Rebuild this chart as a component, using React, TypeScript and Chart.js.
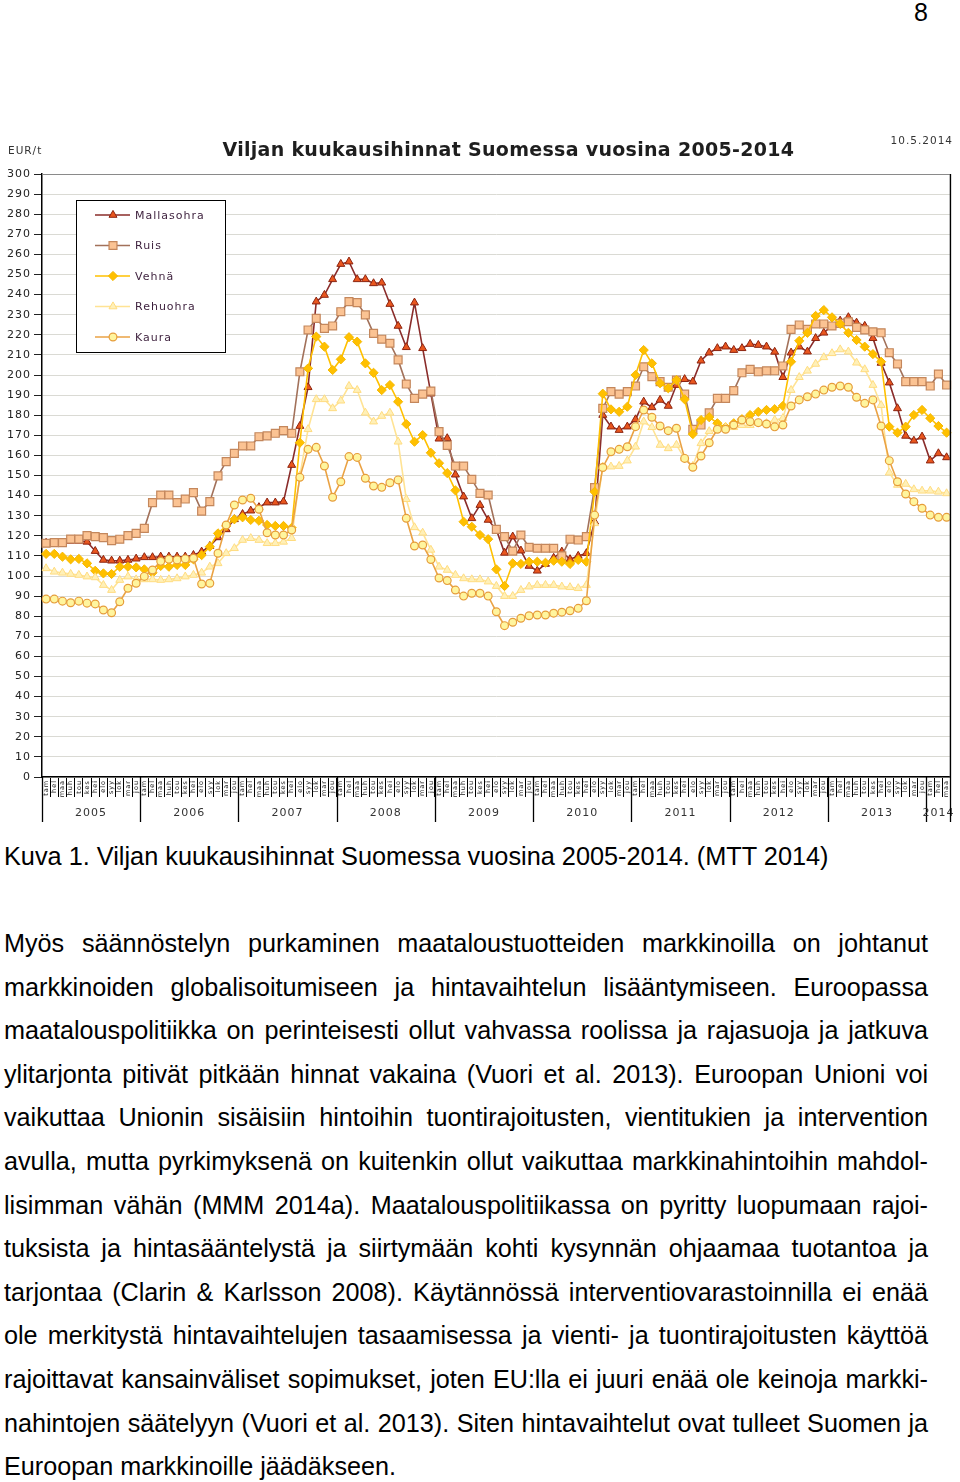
import React, { useEffect, useRef } from "react";
import { Chart, registerables } from "chart.js";

Chart.register(...registerables);

// ---------- data ----------
const years = ["2005", "2006", "2007", "2008", "2009", "2010", "2011", "2012", "2013", "2014"];
const monthLabels = ["tam", "hel", "maa", "huh", "tou", "kes", "hei", "elo", "syy", "lok", "mar", "jou"];
const monthCount = 111;

const mallasohra = [
  116.5, 116.5, 116.5, 117.5, 117.5, 117, 112.4, 108, 107.6, 107.6, 108, 108.6,
  109.3, 109.3, 109.6, 109.6, 109.6, 109.6, 110.4, 112.1, 114.9, 119.2, 123.2, 128.2,
  130.8, 132.5, 134.2, 136.5, 136.5, 137, 155.2, 174.6, 193.9, 236.5, 239.8, 247.6,
  255.2, 256.4, 247.6, 247.6, 245.6, 245.9, 235.3, 224.4, 213.8, 236, 213.3, 190.7,
  168.3, 168.5, 150.4, 139.5, 128.7, 135.3, 127.9, 123, 111.5, 119.6, 112.6, 105,
  102.6, 106, 109, 112.1, 108.3, 110, 111.3, 127, 180.1, 174.3, 172.6, 174.3,
  177.9, 186.7, 183.9, 187.6, 184.6, 195, 197.9, 196.7, 207.1, 211.1, 213.3, 214.1,
  212.4, 213.3, 215.4, 214.9, 214.1, 211.5, 198.9, 211.1, 214.1, 211.6, 218.3, 221,
  224.5, 227, 228.7, 226, 224.4, 218.3, 206, 196.2, 183.4, 169.7, 167.3, 169.3,
  157.4, 161, 159,
];

const ruis = [
  116.3, 116.6, 116.6, 118.4, 118.4, 120.1, 119.6, 119.1, 117.6, 118.3, 120.1, 121.2,
  123.7, 136.5, 140.3, 140.3, 136.5, 138.3, 141.5, 132.3, 137, 149.8, 156.9, 161,
  164.7, 164.7, 169.3, 169.7, 171, 172.3, 171, 201.6, 222.4, 228.2, 223.2, 224.4,
  231.5, 236.5, 236, 229.9, 220.7, 217.8, 215.8, 207.5, 195.5, 188.4, 190.5, 192,
  171.8, 165, 154.7, 154.7, 148.1, 141.1, 140.3, 123.2, 119.6, 112.4, 120.4, 114.3,
  113.8, 113.8, 113.8, 110, 118.3, 117.9, 119.6, 144, 183.4, 191.7, 190.5, 191.7,
  194.5, 204.1, 199.2, 196.7, 193.9, 197.5, 190.5, 173, 175.1, 181.2, 188.4, 188.4,
  192.2, 201.1, 202.8, 201.6, 202.1, 202.1, 204.5, 222.7, 224.9, 222.7, 225.4, 225.4,
  224.4, 225.7, 226.5, 223.7, 222.4, 221.5, 221, 211.1, 205.5, 196.7, 196.7, 196.7,
  194.5, 200.5, 195,
];

const vehna = [
  111, 111, 109.6, 108.3, 108.5, 106.3, 102.6, 101.3, 101, 104.6, 104.6, 104.3,
  103.3, 101.6, 105, 104.6, 105.5, 105.5, 108.3, 110.4, 114.6, 121.2, 124.9, 128.2,
  129.2, 127.9, 127.5, 125.4, 124.9, 124.9, 124, 166.3, 203.3, 219.1, 214.1, 202.5,
  207.8, 218.8, 216.6, 205.8, 201.1, 192.5, 195, 186.7, 175.6, 166.8, 170.1, 161.3,
  156.1, 151.2, 142.6, 127, 124.5, 120.4, 118.3, 103.3, 95, 106.3, 106, 107.1,
  107.1, 106.6, 107.6, 107.1, 106, 108, 107.1, 141.9, 190.7, 182.9, 181.7, 184.2,
  200, 212.4, 205.8, 195.9, 193.4, 197.5, 187.9, 170.6, 177.6, 179, 176, 174,
  176, 178, 180.1, 181.7, 182.6, 183, 184.6, 206.6, 217, 221, 229.4, 232.3,
  228.7, 225.4, 221, 217.4, 214.1, 210.4, 206.6, 174.3, 171.3, 174.3, 180.1, 182.6,
  178.5, 174.6, 171.3,
];

const rehuohra = [
  103.8, 102.1, 101.6, 101, 100.5, 99.7, 99.3, 95.5, 93, 98, 99.7, 98.3,
  98.3, 98.3, 98, 98.3, 98.8, 99.7, 100.5, 101.6, 104.6, 106.3, 111.3, 113.8,
  117.9, 118.8, 117.9, 116.3, 116.3, 117, 118.8, 150, 173, 187.9, 187.9, 183.4,
  187.2, 194.5, 192.5, 181.2, 176.8, 179.6, 181.2, 166.8, 138.2, 124.2, 121.5, 113,
  104.6, 103, 100.5, 98.8, 98.3, 98.3, 97.2, 95, 90, 90, 93, 94.7,
  95.5, 95.5, 95.5, 94.7, 94.4, 93.9, 95.5, 126.2, 154.4, 154.4, 154.7, 157.4,
  164.3, 176.8, 174, 165.2, 163.5, 165.2, 158.5, 154.7, 166, 172, 173, 174,
  174, 175, 175, 176, 176, 177.6, 178.5, 192.5, 198.9, 202.1, 205.5, 208.8,
  210.8, 212.7, 211.6, 206.1, 202.8, 195, 185, 151.4, 145.3, 145.8, 143.1, 142.4,
  142.4, 141.9, 141.1,
];

const kaura = [
  88.5, 88.5, 87.5, 86.7, 87.5, 86.5, 86.1, 83.1, 81.7, 87.2, 93.9, 96.4,
  99.8, 103, 107.3, 108.3, 108, 108.5, 108.8, 96, 96.4, 111.3, 125.4, 135.3,
  137.8, 138.7, 133.2, 121.5, 120.4, 120.4, 122.9, 149.1, 163, 164, 154.7, 139.2,
  146.9, 159.4, 159, 148.6, 144.8, 144.1, 146.4, 147.8, 128.7, 114.9, 115.4, 108.2,
  99, 97.7, 93, 90, 91.4, 91.4, 90, 82.2, 75.3, 77, 79, 80.2,
  80.6, 80.6, 81.5, 82, 82.7, 83.9, 87.7, 130.3, 154, 161.8, 163, 164.3,
  174.3, 182.6, 179, 174.6, 172.3, 173.5, 158.5, 154.1, 159.7, 166.3, 173, 173,
  175.1, 177.6, 176.8, 176.3, 175.6, 174.2, 175.1, 184.6, 187.6, 189.2, 190.5, 192.5,
  193.9, 194.5, 193.9, 188.9, 185.9, 187.6, 174.6, 157.4, 146.9, 140.8, 137, 133.7,
  130.3, 129.2, 129.2,
];

const seriesNames = ["Mallasohra", "Ruis", "Vehnä", "Rehuohra", "Kaura"];
const chartTitle = "Viljan kuukausihinnat Suomessa vuosina 2005-2014";
const unitLabel = "EUR/t";
const dateLabel = "10.5.2014";

const captionText = "Kuva 1. Viljan kuukausihinnat Suomessa vuosina 2005-2014. (MTT 2014)";
const paragraphLines = [
  "Myös säännöstelyn purkaminen maataloustuotteiden markkinoilla on johtanut",
  "markkinoiden globalisoitumiseen ja hintavaihtelun lisääntymiseen. Euroopassa",
  "maatalouspolitiikka on perinteisesti ollut vahvassa roolissa ja rajasuoja ja jatkuva",
  "ylitarjonta pitivät pitkään hinnat vakaina (Vuori et al. 2013). Euroopan Unioni voi",
  "vaikuttaa Unionin sisäisiin hintoihin tuontirajoitusten, vientitukien ja intervention",
  "avulla, mutta pyrkimyksenä on kuitenkin ollut vaikuttaa markkinahintoihin mahdol-",
  "lisimman vähän (MMM 2014a). Maatalouspolitiikassa on pyritty luopumaan rajoi-",
  "tuksista ja hintasääntelystä ja siirtymään kohti kysynnän ohjaamaa tuotantoa ja",
  "tarjontaa (Clarin & Karlsson 2008). Käytännössä interventiovarastoinnilla ei enää",
  "ole merkitystä hintavaihtelujen tasaamisessa ja vienti- ja tuontirajoitusten käyttöä",
  "rajoittavat kansainväliset sopimukset, joten EU:lla ei juuri enää ole keinoja markki-",
  "nahintojen säätelyyn (Vuori et al. 2013). Siten hintavaihtelut ovat tulleet Suomen ja",
  "Euroopan markkinoille jäädäkseen.",
];

const categories = years
  .flatMap((y) => monthLabels.map((m) => `${m} ${y}`))
  .slice(0, monthCount);

// ---------- helpers ----------
function drawMarker(ctx: CanvasRenderingContext2D, ds: any, x: number, y: number) {
  const r = ds.pointRadius;
  ctx.save();
  ctx.fillStyle = ds.pointBackgroundColor;
  ctx.strokeStyle = ds.pointBorderColor;
  ctx.lineWidth = ds.pointBorderWidth;
  ctx.beginPath();
  if (ds.pointStyle === "triangle") {
    ctx.moveTo(x - Math.sin(Math.PI / 3) * r, y + r / 2);
    ctx.lineTo(x, y - r);
    ctx.lineTo(x + Math.sin(Math.PI / 3) * r, y + r / 2);
    ctx.closePath();
  } else if (ds.pointStyle === "rect") {
    const s = Math.SQRT1_2 * r;
    ctx.rect(x - s, y - s, 2 * s, 2 * s);
  } else if (ds.pointStyle === "rectRot") {
    ctx.moveTo(x - r, y);
    ctx.lineTo(x, y - r);
    ctx.lineTo(x + r, y);
    ctx.lineTo(x, y + r);
    ctx.closePath();
  } else {
    ctx.arc(x, y, r, 0, Math.PI * 2);
  }
  ctx.fill();
  ctx.stroke();
  ctx.restore();
}

const decorPlugin = {
  id: "decor",
  beforeDraw(chart: any) {
    (chart.ctx as any).letterSpacing = "1px";
  },
  afterDraw(chart: any) {
    const { ctx, chartArea: a, scales } = chart;
    const xs = scales.x;
    const n = chart.data.labels.length;
    const half = (xs.getPixelForValue(1) - xs.getPixelForValue(0)) / 2;
    ctx.save();

    // frame top / right
    ctx.strokeStyle = "#8a8a8a";
    ctx.lineWidth = 1;
    ctx.beginPath();
    ctx.moveTo(a.left, a.top + 0.5);
    ctx.lineTo(a.right - 0.5, a.top + 0.5);
    ctx.lineTo(a.right - 0.5, a.bottom);
    ctx.stroke();

    // year separators and labels
    ctx.strokeStyle = "#000";
    ctx.lineWidth = 1.3;
    ctx.fillStyle = "#333";
    ctx.font = "11px 'DejaVu Sans'";
    (ctx as any).letterSpacing = "1px";
    ctx.textAlign = "center";
    ctx.textBaseline = "middle";
    years.forEach((yr, k) => {
      const s = k * 12;
      if (s >= n) return;
      const e = Math.min(s + 11, n - 1);
      const x0 = xs.getPixelForValue(s) - half;
      const x1 = xs.getPixelForValue(e) + half;
      ctx.beginPath();
      ctx.moveTo(Math.round(x0) + 0.5, a.bottom);
      ctx.lineTo(Math.round(x0) + 0.5, a.bottom + 45);
      ctx.stroke();
      ctx.fillText(yr, (x0 + x1) / 2, a.bottom + 36);
    });
    const xEnd = xs.getPixelForValue(n - 1) + half;
    ctx.beginPath();
    ctx.moveTo(Math.round(xEnd) - 0.5, a.top);
    ctx.lineTo(Math.round(xEnd) - 0.5, a.bottom + 45);
    ctx.stroke();

    // title, unit, date
    ctx.fillStyle = "#1e1e1e";
    ctx.font = "bold 19px 'DejaVu Sans'";
    (ctx as any).letterSpacing = "0.3px";
    ctx.textAlign = "center";
    ctx.fillText(chartTitle, (a.left + a.right) / 2 + 12, a.top - 23);
    ctx.fillStyle = "#333";
    ctx.font = "10.5px 'DejaVu Sans'";
    (ctx as any).letterSpacing = "1px";
    ctx.textAlign = "left";
    ctx.fillText(unitLabel, 8, a.top - 23);
    ctx.textAlign = "right";
    ctx.fillText(dateLabel, 953, a.top - 33);

    // legend
    const bx = a.left + 34;
    const by = a.top + 26;
    ctx.fillStyle = "#fff";
    ctx.fillRect(bx, by, 149, 152);
    ctx.strokeStyle = "#000";
    ctx.lineWidth = 1;
    ctx.strokeRect(bx + 0.5, by + 0.5, 149, 152);
    chart.data.datasets.forEach((ds: any, i: number) => {
      const y = a.top + 41 + i * 30.5;
      ctx.strokeStyle = ds.borderColor;
      ctx.lineWidth = 1.5;
      ctx.beginPath();
      ctx.moveTo(a.left + 53, y);
      ctx.lineTo(a.left + 88, y);
      ctx.stroke();
      drawMarker(ctx, ds, a.left + 71, y);
      ctx.fillStyle = "#3c1f3c";
      ctx.font = "11px 'DejaVu Sans'";
      (ctx as any).letterSpacing = "1px";
      ctx.textAlign = "left";
      ctx.textBaseline = "middle";
      ctx.fillText(ds.label, a.left + 93, y + 1);
    });
    ctx.restore();
  },
};

// ---------- component ----------
export default function App() {
  const canvasRef = useRef<HTMLCanvasElement | null>(null);

  useEffect(() => {
    const canvas = canvasRef.current;
    if (!canvas) return;
    const chart = new Chart(canvas, {
      type: "line",
      data: {
        labels: categories,
        datasets: [
          {
            label: seriesNames[0],
            data: mallasohra,
            borderColor: "#8a2c2a",
            borderWidth: 1.6,
            pointStyle: "triangle",
            pointRadius: 4.6,
            pointBackgroundColor: "#e9561e",
            pointBorderColor: "#8c2410",
            pointBorderWidth: 1,
            order: 4,
          },
          {
            label: seriesNames[1],
            data: ruis,
            borderColor: "#a2715a",
            borderWidth: 1.6,
            pointStyle: "rect",
            pointRadius: 5.6,
            pointBackgroundColor: "#fbc393",
            pointBorderColor: "#c4875c",
            pointBorderWidth: 1.2,
            order: 3,
          },
          {
            label: seriesNames[2],
            data: vehna,
            borderColor: "#ffc000",
            borderWidth: 1.6,
            pointStyle: "rectRot",
            pointRadius: 4.6,
            pointBackgroundColor: "#ffc000",
            pointBorderColor: "#f5b800",
            pointBorderWidth: 1,
            order: 2,
          },
          {
            label: seriesNames[3],
            data: rehuohra,
            borderColor: "#ffe394",
            borderWidth: 1.6,
            pointStyle: "triangle",
            pointRadius: 4.6,
            pointBackgroundColor: "#fff0b8",
            pointBorderColor: "#ffdc80",
            pointBorderWidth: 1,
            order: 1,
          },
          {
            label: seriesNames[4],
            data: kaura,
            borderColor: "#eaa244",
            borderWidth: 1.6,
            pointStyle: "circle",
            pointRadius: 3.9,
            pointBackgroundColor: "#fff59e",
            pointBorderColor: "#e69d3c",
            pointBorderWidth: 1.2,
            order: 0,
          },
        ],
      },
      options: {
        animation: false,
        responsive: false,
        devicePixelRatio: 1,
        events: [],
        layout: { padding: { left: 0, top: 44, right: 9.3, bottom: 0 } },
        plugins: {
          legend: { display: false },
          title: { display: false },
          tooltip: { enabled: false },
        },
        elements: { line: { tension: 0 } },
        scales: {
          x: {
            type: "category",
            offset: true,
            afterFit: (s: any) => {
              s.height = 53;
            },
            grid: {
              display: true,
              drawOnChartArea: false,
              drawTicks: true,
              offset: true,
              tickLength: 20,
              color: "#000",
              lineWidth: 1,
            },
            border: { display: true, color: "#000", width: 1.5 },
            ticks: {
              autoSkip: false,
              minRotation: 90,
              maxRotation: 90,
              padding: -17,
              color: "#222",
              font: { family: "'DejaVu Sans'", size: 6.5 },
              callback: (_v: any, i: number) => monthLabels[i % 12],
            },
          },
          y: {
            min: 0,
            max: 300,
            afterFit: (s: any) => {
              s.width = 42;
            },
            grid: {
              color: "#dadad4",
              lineWidth: 1,
              tickLength: 8,
              tickColor: "#222",
            },
            border: { display: true, color: "#000", width: 1.5 },
            ticks: {
              stepSize: 10,
              padding: 3,
              color: "#222",
              font: { family: "'DejaVu Sans'", size: 11 },
            },
          },
        },
      },
      plugins: [decorPlugin],
    } as any);
    return () => chart.destroy();
  }, []);

  const textFont = "'Liberation Sans', Arial, sans-serif";

  return (
    <div
      style={{
        position: "absolute",
        left: 0,
        top: 0,
        width: 960,
        height: 1482,
        background: "#fff",
        fontFamily: textFont,
        color: "#000",
      }}
    >
      <div
        style={{
          position: "absolute",
          right: 32,
          top: 0,
          fontSize: 25,
          lineHeight: "25px",
        }}
      >
        8
      </div>
      <canvas
        ref={canvasRef}
        width={960}
        height={700}
        style={{ position: "absolute", left: 0, top: 130, width: 960, height: 700 }}
      />
      <div
        style={{
          position: "absolute",
          left: 4,
          top: 835,
          fontSize: 25.3,
          lineHeight: "43.6px",
          whiteSpace: "nowrap",
        }}
      >
        {captionText}
      </div>
      <div
        style={{
          position: "absolute",
          left: 4,
          top: 922,
          width: 924,
          fontSize: 25.2,
          lineHeight: "43.6px",
        }}
      >
        {paragraphLines.map((line, i) => {
          const last = i === paragraphLines.length - 1;
          return (
            <div
              key={i}
              style={{
                textAlign: last ? "left" : "justify",
                textAlignLast: last ? "left" : "justify",
                height: 43.6,
                whiteSpace: "nowrap",
              } as any}
            >
              {line}
            </div>
          );
        })}
      </div>
    </div>
  );
}
